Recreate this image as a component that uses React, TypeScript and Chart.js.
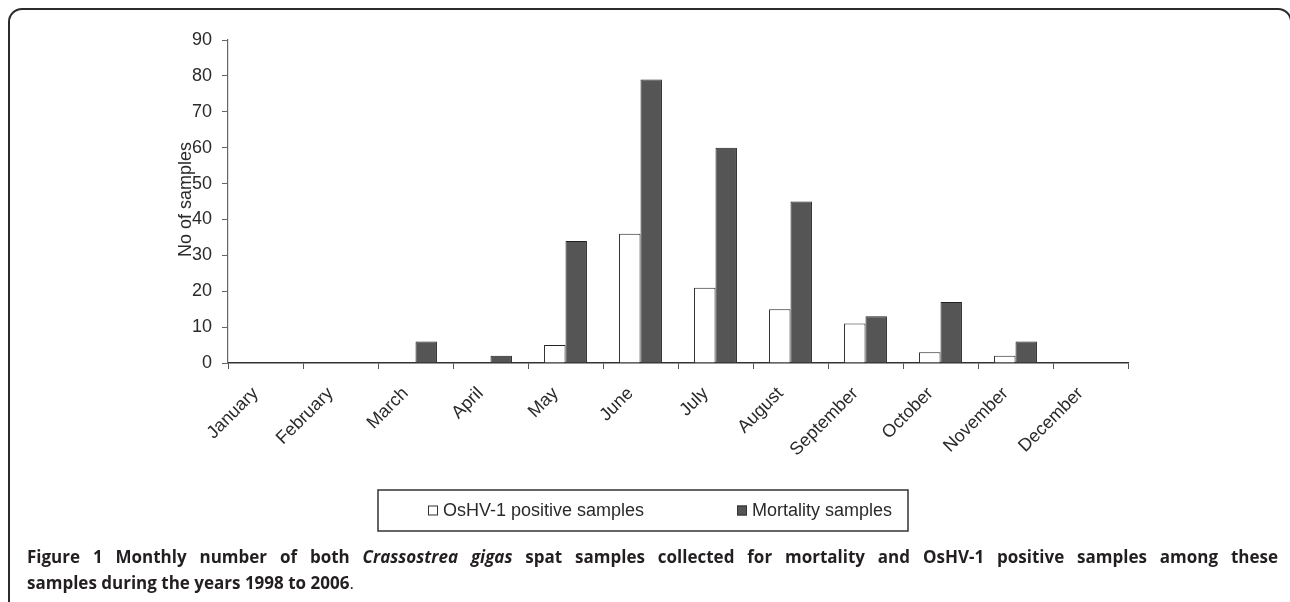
import React, { useEffect, useRef } from "react";
import { Chart, registerables } from "chart.js";

Chart.register(...registerables);

const months = [
  "January", "February", "March", "April", "May", "June",
  "July", "August", "September", "October", "November", "December",
];
const osHVPositive = [0, 0, 0, 0, 5, 36, 21, 15, 11, 3, 2, 0];
const mortality = [0, 0, 6, 2, 34, 79, 60, 45, 13, 17, 6, 0];
const seriesLabels = ["OsHV-1 positive samples", "Mortality samples"];
const yAxisTitle = "No of samples";
const yMin = 0;
const yMax = 90;
const yStep = 10;

const TICK_FONT = { family: "'Liberation Sans', Arial, sans-serif", size: 18 };
const TEXT_COLOR = "#2a2a2a";

const yTitlePlugin = {
  id: "yTitle",
  afterDraw(chart: any) {
    const { ctx, chartArea } = chart;
    ctx.save();
    ctx.translate(chartArea.left - 42, (chartArea.top + chartArea.bottom) / 2 - 2);
    ctx.rotate(-Math.PI / 2);
    ctx.font = `18px ${TICK_FONT.family}`;
    ctx.fillStyle = TEXT_COLOR;
    ctx.textAlign = "center";
    ctx.textBaseline = "middle";
    ctx.fillText(yAxisTitle, 0, 0);
    ctx.restore();
  },
};

const boxLegendPlugin = {
  id: "boxLegend",
  afterDraw(chart: any) {
    const { ctx } = chart;
    const box = { left: 378, top: 490, right: 908, bottom: 531 };
    ctx.save();
    ctx.strokeStyle = "#333";
    ctx.lineWidth = 1.5;
    ctx.strokeRect(box.left, box.top, box.right - box.left, box.bottom - box.top);
    const itemX = [428, 737];
    const cy = (box.top + box.bottom) / 2;
    ctx.font = `18px ${TICK_FONT.family}`;
    ctx.textBaseline = "middle";
    ctx.textAlign = "left";
    chart.data.datasets.forEach((ds: any, i: number) => {
      const x = itemX[i];
      ctx.fillStyle = ds.backgroundColor;
      ctx.fillRect(x, cy - 5, 10, 10);
      ctx.strokeStyle = "#333";
      ctx.lineWidth = 1;
      ctx.strokeRect(x + 0.5, cy - 4.5, 9, 9);
      ctx.fillStyle = TEXT_COLOR;
      ctx.fillText(ds.label, x + 15, cy + 1);
    });
    ctx.restore();
  },
};

function BarChart() {
  const ref = useRef<HTMLCanvasElement | null>(null);
  useEffect(() => {
    if (!ref.current) return;
    const chart = new Chart(ref.current, {
      type: "bar",
      data: {
        labels: months,
        datasets: [
          {
            label: seriesLabels[0],
            data: osHVPositive,
            backgroundColor: "#ffffff",
            borderColor: "#222222",
            borderWidth: 1,
            barPercentage: 1.0,
            categoryPercentage: 0.572,
          },
          {
            label: seriesLabels[1],
            data: mortality,
            backgroundColor: "#555555",
            borderColor: "#222222",
            borderWidth: 1,
            barPercentage: 1.0,
            categoryPercentage: 0.572,
          },
        ],
      },
      options: {
        responsive: false,
        animation: false,
        layout: { padding: { left: 178, right: 162, top: 40, bottom: 82 } },
        plugins: {
          legend: { display: false },
          tooltip: { enabled: false },
          title: { display: false },
        },
        scales: {
          x: {
            afterFit: (s: any) => { s.height = 100; },
            grid: {
              display: true,
              drawOnChartArea: false,
              drawTicks: true,
              tickLength: 6,
              color: "#555",
              offset: true,
            },
            border: { display: true, color: "#333", width: 1.5 },
            ticks: {
              font: TICK_FONT,
              color: TEXT_COLOR,
              minRotation: 45,
              maxRotation: 45,
              autoSkip: false,
              padding: 14,
              labelOffset: -10,
            },
          },
          y: {
            min: yMin,
            max: yMax,
            afterFit: (s: any) => { s.width = 50; },
            grid: {
              display: true,
              drawOnChartArea: false,
              drawTicks: true,
              tickLength: 6,
              color: "#666",
            },
            border: { display: true, color: "#666", width: 1.2 },
            ticks: {
              stepSize: yStep,
              font: TICK_FONT,
              color: TEXT_COLOR,
              padding: 10,
            },
          },
        },
      },
      plugins: [yTitlePlugin, boxLegendPlugin],
    });
    return () => chart.destroy();
  }, []);
  return (
    <canvas
      ref={ref}
      width={1290}
      height={545}
      style={{ position: "absolute", left: 0, top: 0, width: 1290, height: 545 }}
    />
  );
}

export default function App() {
  return (
    <div
      style={{
        position: "fixed",
        left: 0,
        top: 0,
        width: 1290,
        height: 602,
        overflow: "hidden",
        background: "#fff",
      }}
    >
      <div
        style={{
          position: "absolute",
          left: 8,
          top: 8,
          width: 1284,
          height: 700,
          boxSizing: "border-box",
          border: "2px solid #2b2b2b",
          borderTopLeftRadius: 14,
          borderTopRightRadius: 14,
        }}
      />
      <BarChart />
      <div
        style={{
          position: "absolute",
          left: 27,
          top: 544,
          width: 1251,
          fontFamily: "'Open Sans', sans-serif",
          fontWeight: 700,
          fontSize: 17,
          lineHeight: "26px",
          color: "#231f20",
        }}
      >
        <div style={{ textAlign: "justify", textAlignLast: "justify", whiteSpace: "nowrap" as any }}>
          Figure 1 Monthly number of both <i>Crassostrea gigas</i> spat samples collected for mortality and OsHV-1 positive samples among these
        </div>
        <div>
          samples during the years 1998 to 2006<span style={{ fontWeight: 400 }}>.</span>
        </div>
      </div>
    </div>
  );
}
